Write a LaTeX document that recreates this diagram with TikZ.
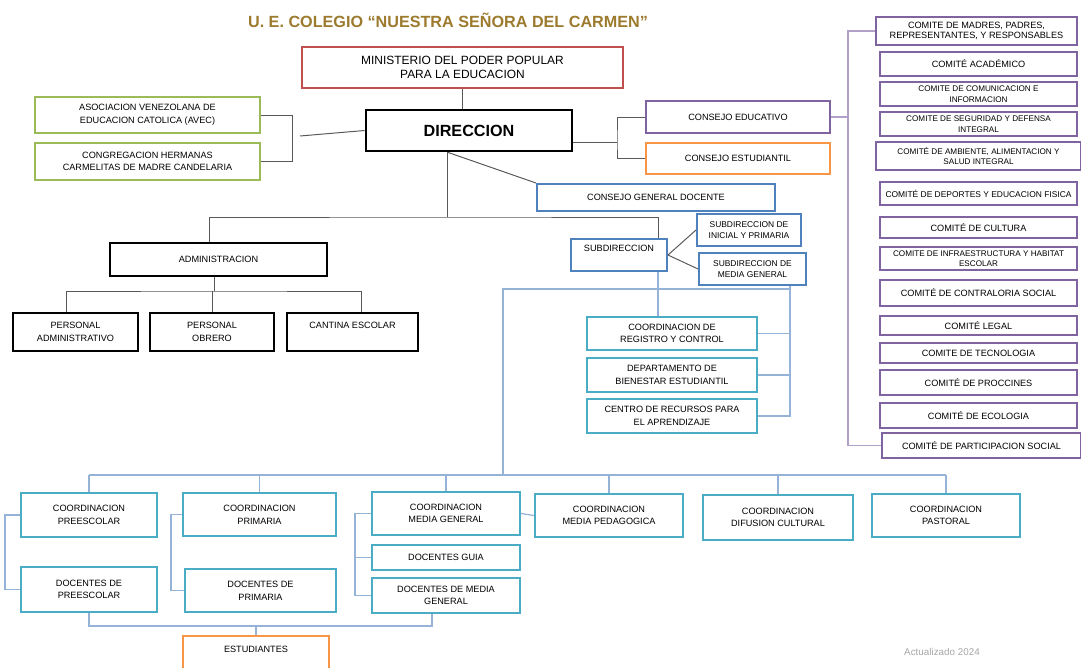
\documentclass[tikz,border=0pt]{standalone}
\usepackage{fontspec}
\setmainfont{Liberation Sans}
\usetikzlibrary{calc}

\definecolor{titulo}{HTML}{9C7A2E}
\definecolor{rojo}{HTML}{C0504D}
\definecolor{verde}{HTML}{9BBB59}
\definecolor{morado}{HTML}{8064A2}
\definecolor{naranja}{HTML}{F79646}
\definecolor{azul}{HTML}{4F81BD}
\definecolor{turquesa}{HTML}{4BACC6}
\definecolor{gris}{HTML}{595959}
\definecolor{grisclaro}{HTML}{A6A6A6}
\definecolor{azulclaro}{HTML}{95B3D7}
\definecolor{moradoclaro}{HTML}{B1A0C7}

\begin{document}
\begin{tikzpicture}[x=0.025cm,y=-0.025cm,
    caja/.style={draw=#1, line width=1.4pt, align=center, inner sep=1pt,
      font=\fontsize{6.5}{9}\selectfont},
    tam/.style 2 args={minimum width=#1*0.025cm, minimum height=#2*0.025cm},
    linea/.style={draw=gris, line width=0.7pt},
    lineaazul/.style={draw=azulclaro, line width=0.9pt},
    lineamorada/.style={draw=moradoclaro, line width=0.8pt}]
  \useasboundingbox (0,0) rectangle (1081,667);
  \clip (0,0) rectangle (1081,667);

  % titulo
  \node[text=titulo, font=\bfseries\fontsize{11.5}{13}\selectfont] (tit) at (448,20)
    {U. E. COLEGIO “NUESTRA SEÑORA DEL CARMEN”};

  % ministerio, direccion y entes externos
  \node[caja=rojo, tam={321}{41}, font=\fontsize{8.5}{10}\selectfont] (min) at (462.5,67.5)
    {MINISTERIO DEL PODER POPULAR\\PARA LA EDUCACION};
  \node[caja=black, line width=2pt, tam={206}{41}, font=\bfseries\fontsize{11.5}{13}\selectfont] (dir) at (469,130.5) {DIRECCION};
  \node[caja=verde, tam={225}{36}] (avec) at (147.5,115) {ASOCIACION VENEZOLANA DE\\EDUCACION CATOLICA (AVEC)};
  \node[caja=verde, tam={225}{37}] (cong) at (147.5,161.5) {CONGREGACION HERMANAS\\CARMELITAS DE MADRE CANDELARIA};
  \node[caja=morado, tam={184}{32}] (cedu) at (738,117) {CONSEJO EDUCATIVO};
  \node[caja=naranja, tam={184}{31}] (cest) at (738,158.5) {CONSEJO ESTUDIANTIL};

  % consejo docente y subdirecciones
  \node[caja=azul, tam={238}{27}] (cgd) at (656,197.5) {CONSEJO GENERAL DOCENTE};
  \node[caja=azul, tam={96}{32}] (sub) at (619,255) {SUBDIRECCION\\~};
  \node[caja=azul, tam={104}{32}, font=\fontsize{6}{8}\selectfont] (subi) at (749,230) {SUBDIRECCION DE\\INICIAL Y PRIMARIA};
  \node[caja=azul, tam={107}{32}, font=\fontsize{6}{8}\selectfont] (subm) at (752.5,269) {SUBDIRECCION DE\\MEDIA GENERAL};

  % administracion
  \node[caja=black, line width=2pt, tam={217}{33}] (adm) at (218.5,259.5) {ADMINISTRACION};
  \foreach \n/\xc/\w/\txt in {
      padm/75.5/125/PERSONAL\\ADMINISTRATIVO,
      pobr/212/124/PERSONAL\\OBRERO,
      cant/352.5/131/CANTINA ESCOLAR\\~%
    }{
      \node[caja=black, line width=2pt, tam={\w}{38}] (\n) at (\xc,332) {\txt};
    }

  % coordinaciones de apoyo
  \node[caja=turquesa, tam={170}{33}] (reg) at (672,333.5) {COORDINACION DE\\REGISTRO Y CONTROL};
  \node[caja=turquesa, tam={170}{34}] (bien) at (672,375) {DEPARTAMENTO DE\\BIENESTAR ESTUDIANTIL};
  \node[caja=turquesa, tam={170}{34}] (cent) at (672,416) {CENTRO DE RECURSOS PARA\\EL APRENDIZAJE};

  % comites
  \foreach \n/\xc/\yc/\w/\h/\fs/\txt in {
      1/976.5/31/201/28/6.5/COMITE DE MADRES{,} PADRES{,}\\REPRESENTANTES{,} Y RESPONSABLES,
      2/978.5/64/197/24/6.5/COMITÉ ACADÉMICO,
      3/978.5/94/197/24/5.8/COMITE DE COMUNICACION E\\INFORMACION,
      4/978.5/124/197/24/5.8/COMITE DE SEGURIDAD Y DEFENSA\\INTEGRAL,
      5/978.5/156/205/28/5.8/COMITÉ DE AMBIENTE{,} ALIMENTACION Y\\SALUD INTEGRAL,
      6/978.5/193.5/197/23/6/COMITÉ DE DEPORTES Y EDUCACION FISICA,
      7/978.5/227.5/197/21/6.5/COMITÉ DE CULTURA,
      8/978.5/258.5/197/23/5.8/COMITE DE INFRAESTRUCTURA Y HABITAT\\ESCOLAR,
      9/978.5/293/197/26/6.5/COMITÉ DE CONTRALORIA SOCIAL,
      10/978.5/325.5/197/19/6.5/COMITÉ LEGAL,
      11/978.5/353/197/20/6.5/COMITE DE TECNOLOGIA,
      12/978.5/382.5/197/25/6.5/COMITÉ DE PROCCINES,
      13/978.5/415.5/197/25/6.5/COMITÉ DE ECOLOGIA,
      14/981.5/445.5/199/25/6.5/COMITÉ DE PARTICIPACION SOCIAL%
    }{
      \node[caja=morado, tam={\w}{\h}, font=\fontsize{\fs}{7.5}\selectfont] (c\n) at (\xc,\yc) {\txt};
    }

  % coordinaciones por nivel
  \foreach \n/\xc/\yc/\w/\h/\txt in {
      cpre/89/515/136/44/COORDINACION\\PREESCOLAR,
      cpri/259.5/514.5/153/43/COORDINACION\\PRIMARIA,
      cmed/446/513.5/148/43/COORDINACION\\MEDIA GENERAL,
      cped/609/515.5/148/43/COORDINACION\\MEDIA PEDAGOGICA,
      cdif/778/517.5/150/45/COORDINACION\\DIFUSION CULTURAL,
      cpas/946/515.5/148/43/COORDINACION\\PASTORAL,
      dpre/89/589.5/136/45/DOCENTES DE\\PREESCOLAR,
      dpri/260.5/590.5/151/43/DOCENTES DE\\PRIMARIA,
      dgui/446/557.5/148/25/DOCENTES GUIA,
      dmed/446/595.5/148/35/DOCENTES DE MEDIA\\GENERAL%
    }{
      \node[caja=turquesa, tam={\w}{\h}] (\n) at (\xc,\yc) {\txt};
    }
  \node[caja=naranja, tam={146}{40}] (est) at (256,656) {ESTUDIANTES\\~};

  % lineas negras
  \draw[linea] (min.south) -- (min.south |- dir.north);
  \coordinate (lbr) at (300,136);
  \draw[linea] (avec.east) -- ++(32,0) |- (cong.east);
  \draw[linea] (dir.west) -- (lbr);
  \coordinate (rbr) at (617,142);
  \draw[linea] (dir.east |- rbr) -- (rbr);
  \draw[linea] (cedu.west) -| (rbr) |- (cest.west);
  \draw[linea] ($(dir.south)+(-21,0)$) -- (cgd.north west);
  \coordinate (dtee) at (447,217);
  \draw[linea] (dtee |- dir.south) -- (dtee);
  \draw[linea] ($(adm.north)+(-9,0)$) |- (dtee) -| ($(sub.north)+(39,0)$);
  \coordinate (atee) at (214,291);
  \draw[linea] (adm.south -| atee) -- (atee);
  \draw[linea] ($(padm.north)+(-9,0)$) |- (atee) -| ($(cant.north)+(9,0)$);
  \draw[linea] (pobr.north) -- (pobr.north |- atee);
  \draw[linea] (sub.east) -- (subi.west);
  \draw[linea] (sub.east) -- (subm.west);

  % lineas azules
  \coordinate (lbus) at (503,289);
  \coordinate (rbus) at (790,289);
  \coordinate (bbus) at (503,475);
  \draw[lineaazul] (bbus) -- (lbus) -- (rbus);
  \draw[lineaazul] (rbus |- subm.south) -- (rbus |- cent.east) -- (cent.east);
  \foreach \b in {reg,bien}
    \draw[lineaazul] (\b.east) -- (\b.east -| rbus);
  \draw[lineaazul] ($(sub.south)+(39,0)$) -- ($(reg.north)+(-14,0)$);
  \draw[lineaazul] (cpre.north |- bbus) -- (cpas.north |- bbus);
  \foreach \n in {cpre,cpri,cmed,cped,cdif,cpas}
    \draw[lineaazul] (\n.north) -- (\n.north |- bbus);
  \draw[lineaazul] (cpre.west) -- ++(-15,0) |- (dpre.west);
  \draw[lineaazul] (cpri.west) -- ++(-11,0) |- (dpri.west);
  \draw[lineaazul] (cmed.west) -- ++(-16,0) |- (dmed.west);
  \draw[lineaazul] (dgui.west) -- ++(-16,0);
  \draw[lineaazul] (cmed.east) -- (cped.west);
  \coordinate (sbus) at (256,626);
  \draw[lineaazul] (dpre.south) |- (sbus) -| ($(dmed.south)+(-14,0)$);
  \draw[lineaazul] (sbus) -- (est.north);

  % lineas moradas
  \coordinate (cbus) at (848,0);
  \draw[lineamorada] (c1.west) -- (c1.west -| cbus) -- (c14.west -| cbus) -- (c14.west);
  \draw[lineamorada] (cedu.east) -- (cedu.east -| cbus);

  \node[text=grisclaro, font=\fontsize{7}{8}\selectfont] (act) at (942,652) {Actualizado 2024};
\end{tikzpicture}
\end{document}
